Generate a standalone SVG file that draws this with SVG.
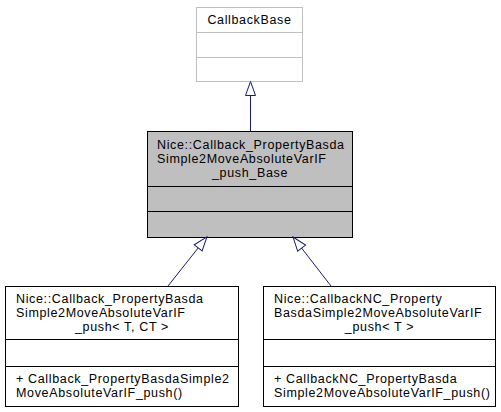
<svg xmlns="http://www.w3.org/2000/svg" width="501" height="412" viewBox="0 0 501 412">
<defs>
<style>
text{font-family:"Liberation Sans",Arial,Helvetica,sans-serif;font-size:12.5px;letter-spacing:0.65px;fill:#000}
.c{text-anchor:middle}
.box{fill:#fff;stroke:#000;stroke-width:1}
.grey{fill:#fff;stroke:#bfbfbf;stroke-width:1}
.cur{fill:#bfbfbf;stroke:#000;stroke-width:1}
.edge{fill:none;stroke:#191970;stroke-width:1}
</style>
<marker id="tri" markerUnits="userSpaceOnUse" markerWidth="16" markerHeight="12" viewBox="-1 -6 16 12" refX="0" refY="0" orient="auto">
<path d="M0,-5 L14,0 L0,5 Z" fill="#fff" stroke="#191970" stroke-width="1"/>
</marker>
</defs>
<rect width="501" height="412" fill="#fff"/>
<g id="node-callbackbase">
<rect class="grey" x="196.5" y="7.5" width="106" height="74"/>
<line x1="196.5" y1="32.5" x2="302.5" y2="32.5" stroke="#bfbfbf"/>
<line x1="196.5" y1="57.5" x2="302.5" y2="57.5" stroke="#bfbfbf"/>
<text class="c" x="249.5" y="24" fill="#222">CallbackBase</text>
</g>
<g id="node-base">
<rect class="cur" x="147.5" y="131.5" width="205" height="106"/>
<line x1="147.5" y1="186.5" x2="352.5" y2="186.5" stroke="#000"/>
<line x1="147.5" y1="211.5" x2="352.5" y2="211.5" stroke="#000"/>
<text x="157" y="149">Nice::Callback_PropertyBasda</text>
<text x="157" y="163">Simple2MoveAbsoluteVarIF</text>
<text class="c" x="250" y="177">_push_Base</text>
</g>
<g id="node-push">
<rect class="box" x="5.5" y="286.5" width="233" height="120"/>
<line x1="5.5" y1="339.5" x2="238.5" y2="339.5" stroke="#000"/>
<line x1="5.5" y1="366.5" x2="238.5" y2="366.5" stroke="#000"/>
<text x="16" y="303">Nice::Callback_PropertyBasda</text>
<text x="16" y="317">Simple2MoveAbsoluteVarIF</text>
<text class="c" x="122" y="331">_push&lt; T, CT &gt;</text>
<text x="16" y="383">+ Callback_PropertyBasdaSimple2</text>
<text x="16" y="397">MoveAbsoluteVarIF_push()</text>
</g>
<g id="node-pushnc">
<rect class="box" x="263.5" y="286.5" width="232" height="120"/>
<line x1="263.5" y1="339.5" x2="495.5" y2="339.5" stroke="#000"/>
<line x1="263.5" y1="366.5" x2="495.5" y2="366.5" stroke="#000"/>
<text x="274" y="303">Nice::CallbackNC_Property</text>
<text x="274" y="317">BasdaSimple2MoveAbsoluteVarIF</text>
<text class="c" x="379.5" y="331">_push&lt; T &gt;</text>
<text x="274" y="383">+ CallbackNC_PropertyBasda</text>
<text x="274" y="397">Simple2MoveAbsoluteVarIF_push()</text>
</g>
<g id="connectors">
<line class="edge" x1="250.5" y1="131" x2="250.5" y2="95.5" marker-end="url(#tri)"/>
<line class="edge" x1="168" y1="286" x2="198.2" y2="247.9" marker-end="url(#tri)"/>
<line class="edge" x1="331" y1="286" x2="301.6" y2="248.1" marker-end="url(#tri)"/>
</g>
</svg>
